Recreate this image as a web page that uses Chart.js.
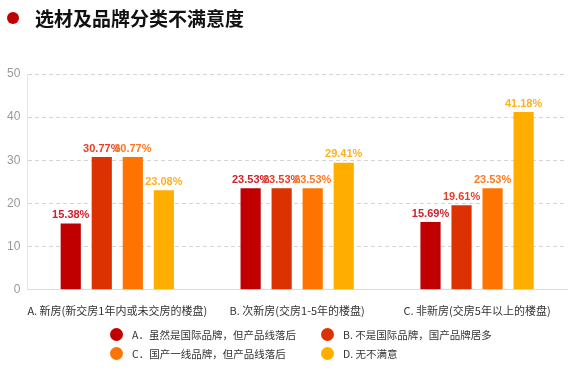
<!DOCTYPE html>
<html>
<head>
<meta charset="utf-8">
<title>选材及品牌分类不满意度</title>
<script src="https://cdn.jsdelivr.net/npm/chart.js@4"></script>
<style>
  body { margin: 0; background: #fff; font-family: "Noto Sans CJK SC", "Noto Sans", sans-serif; }
  #wrap { position: relative; width: 577px; height: 373px; }
  #chart { position: absolute; left: 0; top: 0; }
  #title { position: absolute; left: 7px; top: 6px; font-size: 19px; font-weight: bold; color: #111; line-height: 24px; }
  #title span.dot { display: inline-block; width: 12px; height: 12px; border-radius: 50%; background: #C00000; margin-right: 16px; vertical-align: 2px; }
  #legend { position: absolute; left: 110px; top: 325px; display: grid; grid-template-columns: 211px 200px; font-size: 10.5px; color: #333; }
  #legend div { display: flex; align-items: center; height: 19px; }
  #legend i { display: inline-block; width: 13px; height: 13px; border-radius: 50%; margin-right: 9px; }
</style>
</head>
<body>
<div id="wrap">
  <canvas id="chart" width="577" height="373"></canvas>
  <div id="title"><span class="dot"></span>选材及品牌分类不满意度</div>
  <div id="legend"></div>
</div>
<script>
const categories = ['A. 新房(新交房1年内或未交房的楼盘)', 'B. 次新房(交房1-5年的楼盘)', 'C. 非新房(交房5年以上的楼盘)'];
const seriesNames = ['A．虽然是国际品牌，但产品线落后', 'B. 不是国际品牌，国产品牌居多', 'C．国产一线品牌，但产品线落后', 'D. 无不满意'];
const seriesA = [15.38, 23.53, 15.69];
const seriesB = [30.77, 23.53, 19.61];
const seriesC = [30.77, 23.53, 23.53];
const seriesD = [23.08, 29.41, 41.18];
const yTicks = [0, 10, 20, 30, 40, 50];

const barColors = ['#C00000', '#DC3100', '#FF7300', '#FFAE00'];
const labelColors = ['#D0202A', '#E5402A', '#FF7A20', '#FFB020'];

const valueLabels = {
  id: 'valueLabels',
  afterDatasetsDraw(chart) {
    const ctx = chart.ctx;
    ctx.save();
    ctx.font = 'bold 11px "Liberation Sans", Arial, sans-serif';
    ctx.textAlign = 'center';
    ctx.textBaseline = 'bottom';
    chart.data.datasets.forEach((ds, i) => {
      chart.getDatasetMeta(i).data.forEach((bar, j) => {
        ctx.fillStyle = labelColors[i];
        ctx.fillText(ds.data[j].toFixed(2) + '%', bar.x, bar.y - 3);
      });
    });
    ctx.restore();
  }
};

const chart = new Chart(document.getElementById('chart'), {
  type: 'bar',
  data: {
    labels: categories,
    datasets: [seriesA, seriesB, seriesC, seriesD].map((d, i) => ({
      label: seriesNames[i],
      data: d,
      backgroundColor: barColors[i],
      borderWidth: 0,
      categoryPercentage: 0.69,
      barPercentage: 0.65
    }))
  },
  options: {
    responsive: false,
    animation: false,
    layout: { padding: { top: 74, bottom: 50, left: 0, right: 10 } },
    plugins: { legend: { display: false }, tooltip: { enabled: false } },
    scales: {
      x: {
        grid: { display: false },
        border: { color: '#dcdcdc' },
        ticks: { color: '#333', font: { size: 11, family: '"Noto Sans CJK SC", sans-serif' }, padding: 6, maxRotation: 0, autoSkip: false }
      },
      y: {
        min: 0, max: 50,
        afterBuildTicks(axis) { axis.ticks = yTicks.map(v => ({ value: v })); },
        grid: {
          drawTicks: false,
          color: ctx => ctx.tick && ctx.tick.value === 0 ? '#d8d8d8' : '#d4d4d4'
        },
        border: { color: '#e6e6e6', dash: [4, 3] },
        ticks: { color: '#999', font: { size: 12, family: '"Liberation Sans", sans-serif' }, padding: 7 }
      }
    }
  },
  plugins: [valueLabels]
});

const legend = document.getElementById('legend');
seriesNames.forEach((name, i) => {
  const div = document.createElement('div');
  div.innerHTML = '<i style="background:' + barColors[i] + '"></i>' + name;
  legend.appendChild(div);
});
</script>
</body>
</html>
